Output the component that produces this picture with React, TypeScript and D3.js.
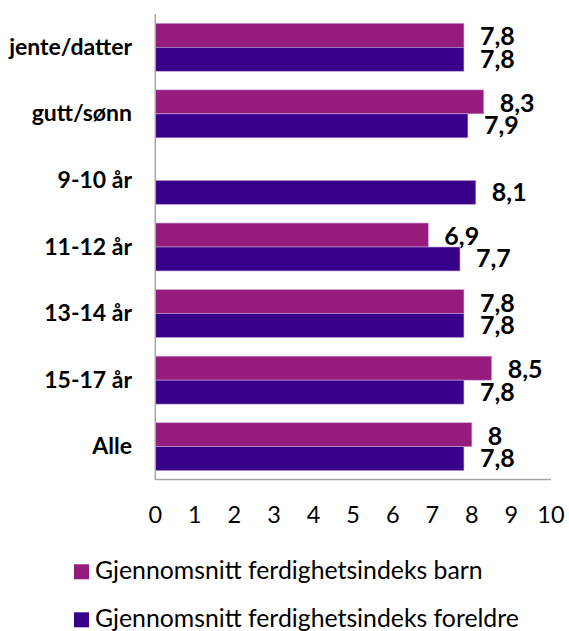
import React from "react";
import * as d3 from "d3";

const categories = ["jente/datter", "gutt/sønn", "9-10 år", "11-12 år", "13-14 år", "15-17 år", "Alle"];
const barnValues: (number | null)[] = [7.8, 8.3, null, 6.9, 7.8, 8.5, 8.0];
const foreldreValues: (number | null)[] = [7.8, 7.9, 8.1, 7.7, 7.8, 7.8, 7.8];
const seriesNames = ["Gjennomsnitt ferdighetsindeks barn", "Gjennomsnitt ferdighetsindeks foreldre"];
const seriesColors = ["#951C7D", "#38008A"];
const xTicks = [0, 1, 2, 3, 4, 5, 6, 7, 8, 9, 10];

const W = 569;
const H = 631;
const FONT = "Lato, 'Open Sans', sans-serif";

export default function App() {
  const x = d3.scaleLinear().domain([0, 10]).range([155.3, 551]);
  const y = d3
    .scaleBand<string>()
    .domain(categories)
    .range([14, 480])
    .paddingInner(0.28)
    .paddingOuter(0.14);
  const sub = d3.scaleBand<string>().domain(["barn", "foreldre"]).range([0, y.bandwidth()]);
  const series = [
    { key: "barn", values: barnValues, color: seriesColors[0], dy: 10 },
    { key: "foreldre", values: foreldreValues, color: seriesColors[1], dy: 8.5 },
  ];
  const fmt = (v: number) => String(v).replace(".", ",");

  return (
    <svg
      width={W}
      height={H}
      style={{ position: "absolute", left: 0, top: 0, background: "#fff" }}
      fontFamily={FONT}
    >
      {/* bars */}
      {series.map((s) =>
        categories.map((c, i) => {
          const v = s.values[i];
          if (v == null) return null;
          const y0 = (y(c) as number) + (sub(s.key) as number);
          return (
            <g key={s.key + c}>
              <rect
                x={x(0)}
                y={y0}
                width={x(v) - x(0)}
                height={sub.bandwidth()}
                fill={s.color}
                stroke="#c7a3d6"
                strokeWidth={0.6}
              />
              <text
                x={x(v) + 16}
                y={y0 + sub.bandwidth() / 2 + s.dy}
                fontSize={25}
                fontWeight={700}
                fill="#000"
              >
                {fmt(v)}
              </text>
            </g>
          );
        })
      )}

      {/* axes */}
      <line x1={x(0)} x2={x(0)} y1={14} y2={480} stroke="#a6a6a6" strokeWidth={1.5} />
      <line x1={x(0)} x2={x(10)} y1={479.5} y2={479.5} stroke="#a6a6a6" strokeWidth={1.5} />

      {/* category labels */}
      {categories.map((c) => (
        <text
          key={c}
          x={132}
          y={(y(c) as number) + y.bandwidth() / 2 + 7.5}
          textAnchor="end"
          fontSize={23}
          fontWeight={700}
          fill="#000"
        >
          {c}
        </text>
      ))}

      {/* x tick labels */}
      {xTicks.map((t) => (
        <text key={t} x={x(t)} y={523} textAnchor="middle" fontSize={23.5} fill="#000">
          {t}
        </text>
      ))}

      {/* legend */}
      {seriesNames.map((n, i) => (
        <g key={n}>
          <rect x={74} y={564.3 + i * 48} width={15} height={15} fill={seriesColors[i]} />
          <text x={95} y={579 + i * 47.5} fontSize={24.8} fill="#000">
            {n}
          </text>
        </g>
      ))}
    </svg>
  );
}
